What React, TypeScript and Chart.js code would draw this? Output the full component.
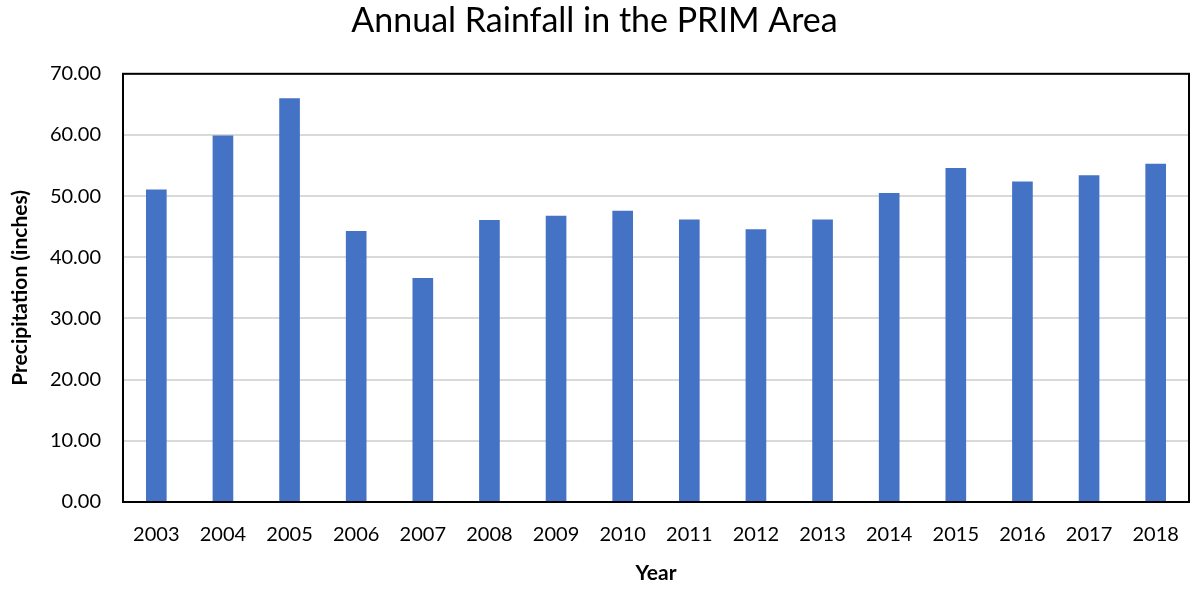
import React, { useEffect, useRef } from "react";
import { Chart, registerables } from "chart.js";

Chart.register(...registerables);

const years = ["2003","2004","2005","2006","2007","2008","2009","2010","2011","2012","2013","2014","2015","2016","2017","2018"];
const rainfall = [51.1, 59.9, 66.0, 44.3, 36.6, 46.1, 46.8, 47.6, 46.2, 44.6, 46.2, 50.5, 54.6, 52.4, 53.4, 55.3];
const yMin = 0;
const yMax = 70;
const yStep = 10;

const FONT = "Lato, 'Open Sans', sans-serif";

const boxPlugin = {
  id: "plotBox",
  afterDraw(chart: any) {
    const { ctx, chartArea } = chart;
    ctx.save();
    ctx.strokeStyle = "#000000";
    ctx.lineWidth = 2;
    ctx.strokeRect(chartArea.left, chartArea.top, chartArea.right - chartArea.left, chartArea.bottom - chartArea.top);
    ctx.restore();
  },
};

export default function App() {
  const ref = useRef<HTMLCanvasElement | null>(null);
  useEffect(() => {
    document.body.style.margin = "0";
    const chart = new Chart(ref.current as HTMLCanvasElement, {
      type: "bar",
      data: {
        labels: years,
        datasets: [
          {
            label: "Precipitation",
            data: rainfall,
            backgroundColor: "#4472C4",
            borderWidth: 0,
            barPercentage: 0.31,
            categoryPercentage: 1,
          },
        ],
      },
      options: {
        animation: false,
        responsive: true,
        maintainAspectRatio: false,
        layout: { padding: { left: 0, right: 5, top: 0, bottom: 0 } },
        plugins: {
          legend: { display: false },
          tooltip: { enabled: false },
          title: {
            display: true,
            text: "Annual Rainfall in the PRIM Area",
            color: "#000000",
            font: { family: FONT, size: 34, weight: "normal" },
            padding: { top: 1, bottom: 32 },
          },
        },
        scales: {
          x: {
            grid: { display: false },
            border: { display: true, color: "#000000", width: 2 },
            ticks: { color: "#000000", font: { family: FONT, size: 20 }, padding: 13, maxRotation: 0 },
            title: {
              display: true,
              text: "Year",
              color: "#000000",
              font: { family: FONT, size: 21, weight: "bold" },
              padding: { top: 4, bottom: 4 },
            },
            afterFit(scale: any) {
              scale.height = 88;
            },
          },
          y: {
            min: yMin,
            max: yMax,
            grid: { color: "#d9d9d9", lineWidth: 2, drawTicks: false },
            border: { display: true, color: "#000000", width: 2 },
            ticks: {
              stepSize: yStep,
              color: "#000000",
              font: { family: FONT, size: 20 },
              padding: 22,
              callback: (v: any) => Number(v).toFixed(2),
            },
            title: {
              display: true,
              text: "Precipitation (inches)",
              color: "#000000",
              font: { family: FONT, size: 21, weight: "bold" },
              padding: { top: 8, bottom: 4 },
            },
            afterFit(scale: any) {
              scale.width = 123;
            },
          },
        },
      },
      plugins: [boxPlugin],
    });
    return () => chart.destroy();
  }, []);
  return (
    <div style={{ position: "absolute", left: 0, top: 0, width: 1194, height: 590 }}>
      <canvas ref={ref} />
    </div>
  );
}
